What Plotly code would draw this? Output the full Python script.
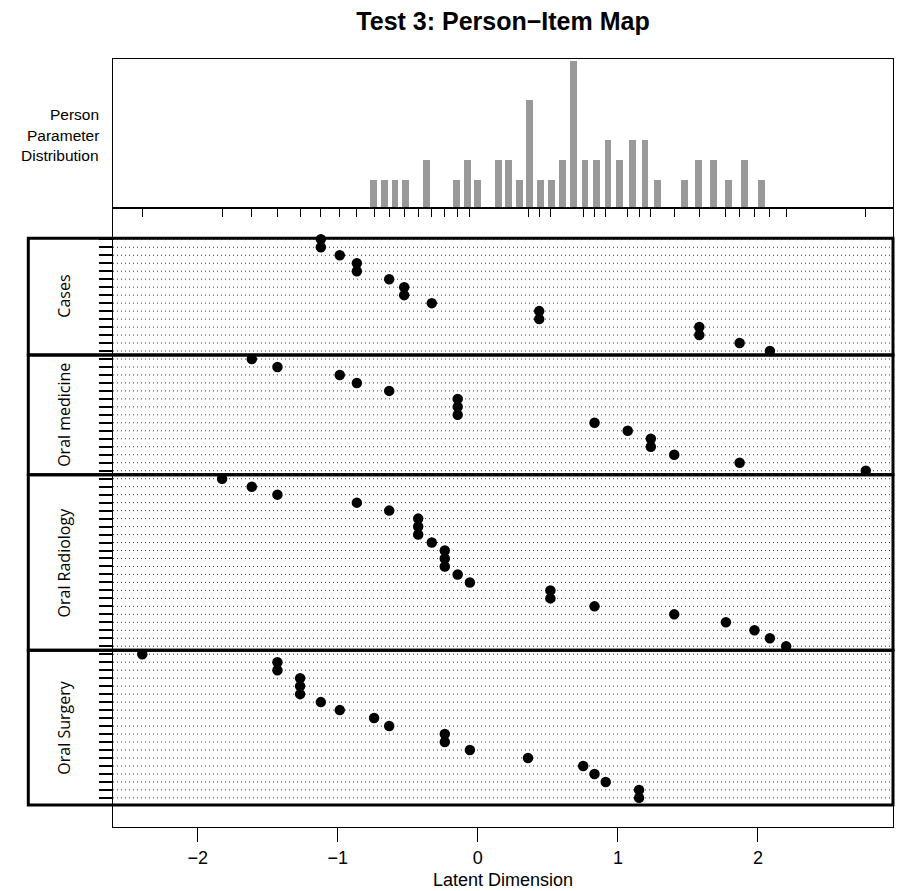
import plotly.graph_objects as go

# ---------------- data ----------------
group_names = ["Cases", "Oral medicine", "Oral Radiology", "Oral Surgery"]
cases = [-1.121, -1.121, -0.986, -0.864, -0.864, -0.633, -0.526, -0.526, -0.329,
         0.438, 0.438, 1.581, 1.581, 1.869, 2.085]
oral_medicine = [-1.614, -1.431, -0.986, -0.864, -0.633, -0.144, -0.144, -0.144,
                 0.833, 1.070, 1.235, 1.235, 1.402, 1.869, 2.770]
oral_radiology = [-1.826, -1.614, -1.431, -0.864, -0.633, -0.426, -0.426, -0.426,
                  -0.329, -0.236, -0.236, -0.236, -0.144, -0.057, 0.518, 0.518,
                  0.833, 1.402, 1.771, 1.975, 2.085, 2.201]
oral_surgery = [-2.396, -1.431, -1.431, -1.269, -1.269, -1.269, -1.121, -0.986,
                -0.741, -0.633, -0.236, -0.236, -0.057, 0.358, 0.752, 0.833,
                0.913, 1.151, 1.151]

person_theta = [-0.743, -0.666, -0.592, -0.518, -0.368, -0.150, -0.075, -0.001,
                0.148, 0.221, 0.298, 0.371, 0.448, 0.526, 0.602, 0.683, 0.764,
                0.845, 0.929, 1.012, 1.102, 1.193, 1.283, 1.474, 1.576, 1.681,
                1.791, 1.902, 2.026]
person_count = [1, 1, 1, 1, 2, 1, 2, 1, 2, 2, 1, 5, 1, 1, 2, 7, 2, 2, 3, 2, 3, 3,
                1, 1, 2, 2, 1, 2, 1]

x_tick_vals = [-2, -1, 0, 1, 2]

# ---------------- derived ----------------
groups = [cases, oral_medicine, oral_radiology, oral_surgery]
item_loc = [v for g in groups for v in g]
n_items = len(item_loc)
rows = list(range(1, n_items + 1))
unique_loc = sorted(set(item_loc))

# ---------------- style constants ----------------
X_RANGE = [-2.605, 2.964]
Y_RANGE_ITEMS = [74.65, -2.885]
HIST_YMIN, HIST_YMAX = -0.427, 7.087
W, H = 898, 891
M_L, M_R, M_T, M_B = 113, 5, 59, 64
PLOT_H = H - M_T - M_B
SPLIT = (H - M_B - 208.3) / PLOT_H
FONT = "Liberation Sans, Arial, Helvetica, sans-serif"
LABEL_FONT = "Open Sans, Noto Sans, sans-serif"

fig = go.Figure()

# histogram of person parameters
fig.add_trace(go.Bar(
    x=person_theta, y=[c - HIST_YMIN for c in person_count], base=HIST_YMIN,
    width=0.048, marker=dict(color="#999999", line=dict(width=0)),
    xaxis="x", yaxis="y", showlegend=False, hoverinfo="skip"))

# item locations
fig.add_trace(go.Scatter(
    x=item_loc, y=rows, mode="markers",
    marker=dict(color="black", size=10.5, line=dict(width=0)),
    xaxis="x2", yaxis="y2", showlegend=False, cliponaxis=False))

shapes = []
# dotted row guides
for r in rows:
    shapes.append(dict(type="line", xref="x2 domain", yref="y2", x0=0, x1=1,
                       y0=r, y1=r, layer="below",
                       line=dict(color="#3a3a3a", width=1, dash="1px,3px")))

# group boxes
annotations = []
start = 1
box_left = (28.3 - M_L) / (W - M_L - M_R)
for gi, (name, g) in enumerate(zip(group_names, groups)):
    end = start + len(g) - 1
    y0 = start - 0.5 if gi > 0 else 0.875
    y1 = end + 0.5 if gi < len(groups) - 1 else 71.9
    shapes.append(dict(type="rect", xref="paper", yref="y2", x0=box_left, x1=1,
                       y0=y0, y1=y1, layer="above",
                       line=dict(color="black", width=3)))
    annotations.append(dict(text=name, xref="paper", yref="y2",
                            x=(64 - M_L) / (W - M_L - M_R), y=(y0 + y1) / 2,
                            textangle=-90, showarrow=False,
                            xanchor="center", yanchor="middle",
                            font=dict(family=LABEL_FONT, size=16, color="black")))
    start = end + 1

# left label of histogram
for txt, ypx in zip(["Person", "Parameter", "Distribution"], [115, 135, 155]):
    annotations.append(dict(text=txt, xref="paper", yref="paper",
                            x=(100.5 - M_L) / (W - M_L - M_R),
                            y=(H - M_B - ypx) / PLOT_H,
                            xanchor="right", yanchor="middle", showarrow=False,
                            font=dict(family=FONT, size=15.5, color="black")))

# x-axis title
annotations.append(dict(text="Latent Dimension", xref="paper", yref="paper",
                        x=0.5, y=(H - M_B - 880) / PLOT_H, xanchor="center",
                        yanchor="middle", showarrow=False,
                        font=dict(family=FONT, size=18, color="black")))

fig.update_layout(
    width=W, height=H,
    margin=dict(l=M_L, r=M_R, t=M_T, b=M_B),
    paper_bgcolor="white", plot_bgcolor="rgba(0,0,0,0)",
    title=dict(text="<b>Test 3: Person\u2212Item Map</b>", x=0.5, xref="paper",
               xanchor="center", y=1 - 21 / H, yref="container", yanchor="middle",
               font=dict(family=FONT, size=25, color="black")),
    bargap=0,
    xaxis=dict(domain=[0, 1], anchor="y", range=X_RANGE, showgrid=False,
               zeroline=False, showline=True, linecolor="black", linewidth=1,
               mirror=True, ticks="outside", tickvals=unique_loc, ticklen=8,
               tickwidth=1, tickcolor="black", showticklabels=False),
    yaxis=dict(domain=[SPLIT, 1], anchor="x", range=[HIST_YMIN, HIST_YMAX],
               showgrid=False, zeroline=False, showline=True, linecolor="black",
               linewidth=1, mirror=True, ticks="", showticklabels=False),
    xaxis2=dict(domain=[0, 1], anchor="y2", range=X_RANGE, showgrid=False,
                zeroline=False, showline=True, linecolor="black", linewidth=1,
                mirror=True, ticks="outside", tickvals=x_tick_vals, ticklen=14,
                tickwidth=1, tickcolor="black",
                tickfont=dict(family=FONT, size=18, color="black")),
    yaxis2=dict(domain=[0, SPLIT], anchor="x2", range=Y_RANGE_ITEMS,
                showgrid=False, zeroline=False, showline=True, linecolor="black",
                linewidth=1, mirror=True, ticks="outside", tickvals=rows,
                ticklen=13, tickwidth=1.5, tickcolor="black",
                showticklabels=False),
    shapes=shapes, annotations=annotations,
)

fig.write_html("out.html", config={"displayModeBar": False},
               post_script="document.body.style.margin='0px';"
                           "document.body.style.overflow='hidden';")
